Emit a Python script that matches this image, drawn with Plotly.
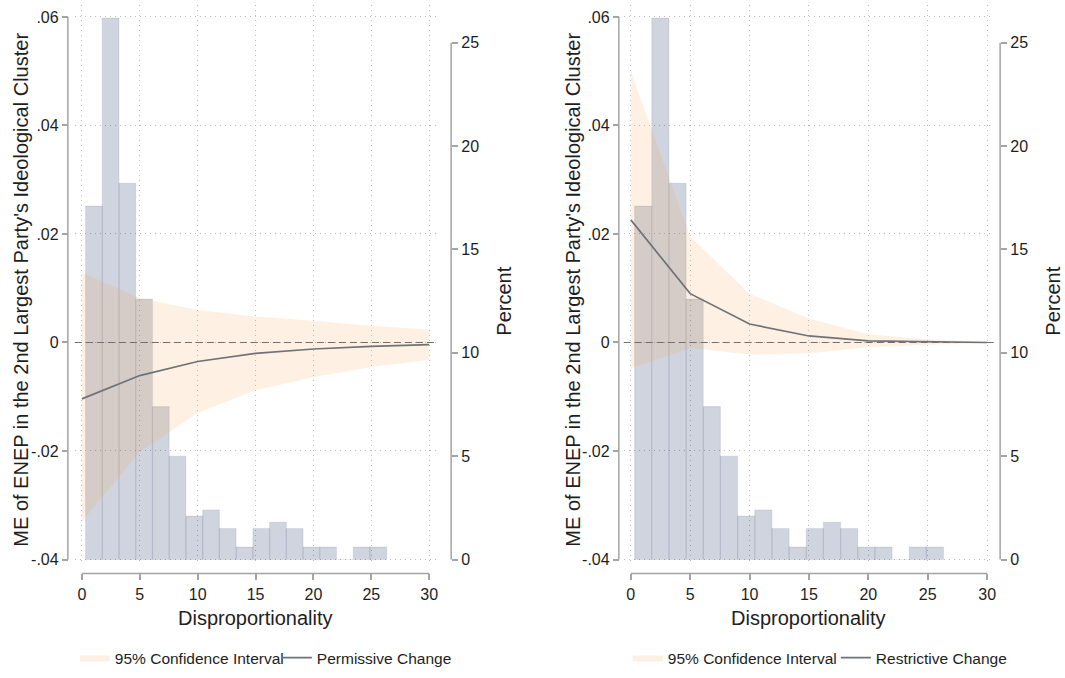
import numpy as np
import plotly.graph_objects as go

# ---- data -------------------------------------------------------------
# Evaluation points of disproportionality for the marginal effects
disp_points = [0, 5, 10, 15, 20, 25, 30]

# Permissive change: marginal effect and 95% CI bounds
perm_me = [-0.0104, -0.0061, -0.0035, -0.0020, -0.0012, -0.0007, -0.0004]
perm_hi = [0.0129, 0.0082, 0.0060, 0.0048, 0.0040, 0.0031, 0.0024]
perm_lo = [-0.0330, -0.0202, -0.0130, -0.0088, -0.0064, -0.0045, -0.0032]

# Restrictive change: marginal effect and 95% CI bounds
restr_me = [0.0226, 0.0090, 0.0034, 0.0012, 0.0003, 0.0001, 0.0000]
restr_hi = [0.0500, 0.0195, 0.0090, 0.0044, 0.0015, 0.0006, 0.0001]
restr_lo = [-0.0048, -0.0010, -0.0022, -0.0020, -0.0009, -0.0004, -0.0001]

# Histogram of disproportionality (percent of observations per bin)
hist_start = 0.32
hist_width = 1.445
hist_percent = [17.1, 26.2, 18.2, 12.6, 7.4, 5.0, 2.1, 2.4, 1.5, 0.6,
                1.5, 1.8, 1.5, 0.6, 0.6, 0.0, 0.6, 0.6]

# Tick labels
me_ticks = [-0.04, -0.02, 0, 0.02, 0.04, 0.06]
me_ticktext = ["-.04", "-.02", "0", ".02", ".04", ".06"]
pct_ticks = [0, 5, 10, 15, 20, 25]
x_ticks = [0, 5, 10, 15, 20, 25, 30]

y_title = "ME of ENEP in the 2nd Largest Party's Ideological Cluster"
panels = [
    dict(me=perm_me, hi=perm_hi, lo=perm_lo, label="Permissive Change"),
    dict(me=restr_me, hi=restr_hi, lo=restr_lo, label="Restrictive Change"),
]

# ---- page geometry (pixels) ------------------------------------------
W, H = 1065, 678


def fx(px):
    return px / W


def fy(py):
    return 1 - py / H


# per panel: pixel of x=0, pixel of x=30, left axis x, right axis x,
# left-title x, right-title x, legend x, width reserved for first legend text
geo = [
    dict(x0=82, x30=430, laxis=68, raxis=452, ltitle=21, rtitle=505,
         leg=75, legw=157),
    dict(x0=632, x30=989, laxis=620, raxis=1002, ltitle=574, rtitle=1055,
         leg=629, legw=163),
]
Y_TOP, Y_BOT = 5, 568          # plot region rows
ME_ZERO, ME_PX = 344, 5450     # row of ME=0, pixels per ME unit
PCT_ZERO, PCT_PX = 562, 20.76  # row of 0 percent, pixels per percent
XAXIS_ROW = 576
PAD = 0.6

FONT = "Liberation Sans, Arial, Helvetica, sans-serif"
AX_COL = "#a4a4a4"
TXT_COL = "#1e1e1e"
GRID_COL = "#bcbcbc"
GRID_DASH = "1px,4px"
CI_FILL = "rgba(247,160,70,0.15)"
BAR_FILL = "rgba(20,40,95,0.2)"
BAR_EDGE = "rgba(20,40,95,0.08)"
LINE_COL = "#6f7277"
TICK_SIZE = 16
TITLE_SIZE = 20

edges = hist_start + hist_width * np.arange(len(hist_percent))
centers = edges + hist_width / 2

fig = go.Figure()
layout = dict(
    width=W, height=H, margin=dict(l=0, r=0, t=0, b=0),
    paper_bgcolor="white", plot_bgcolor="white",
    font=dict(family=FONT, size=15, color=TXT_COL),
    shapes=[], annotations=[],
)

me_range = [(ME_ZERO - Y_BOT) / ME_PX, (ME_ZERO - Y_TOP) / ME_PX]
pct_range = [(PCT_ZERO - Y_BOT) / PCT_PX, (PCT_ZERO - Y_TOP) / PCT_PX]
ydom = [fy(Y_BOT), fy(Y_TOP)]

for i, (p, g) in enumerate(zip(panels, geo)):
    xn = "x" if i == 0 else "x2"
    yp = "y" if i == 0 else "y3"      # percent axis (histogram)
    ym = "y2" if i == 0 else "y4"     # marginal-effect axis
    xkey = "xaxis" if i == 0 else "xaxis2"
    ypkey = "yaxis" if i == 0 else "yaxis3"
    ymkey = "yaxis2" if i == 0 else "yaxis4"
    leg = "legend" if i == 0 else "legend2"

    upx = (g["x30"] - g["x0"]) / 30.0
    xdom = [fx(g["x0"] - PAD * upx), fx(g["x30"] + PAD * upx)]

    # histogram bars
    fig.add_trace(go.Bar(
        x=centers, y=hist_percent, width=hist_width,
        marker=dict(color=BAR_FILL, line=dict(color=BAR_EDGE, width=1.2)),
        xaxis=xn, yaxis=yp, showlegend=False, hoverinfo="skip",
    ))
    # confidence band
    fig.add_trace(go.Scatter(
        x=list(disp_points) + list(disp_points)[::-1],
        y=list(p["hi"]) + list(p["lo"])[::-1],
        fill="toself", fillcolor=CI_FILL, line=dict(width=0),
        mode="lines", name="95% Confidence Interval",
        xaxis=xn, yaxis=ym, legend=leg, legendwidth=g["legw"],
        hoverinfo="skip",
    ))
    # marginal effect line
    fig.add_trace(go.Scatter(
        x=disp_points, y=p["me"], mode="lines",
        line=dict(color=LINE_COL, width=1.7),
        name=p["label"], xaxis=xn, yaxis=ym, legend=leg,
    ))

    layout[xkey] = dict(
        domain=xdom, range=[-PAD, 30 + PAD], anchor="free",
        position=fy(XAXIS_ROW), tickvals=x_ticks, ticks="outside",
        ticklen=6, tickwidth=1.5, tickcolor=AX_COL, showline=False,
        showgrid=True, gridcolor=GRID_COL, griddash=GRID_DASH, gridwidth=1,
        zeroline=False, tickfont=dict(size=TICK_SIZE, color=TXT_COL),
    )
    layout[ypkey] = dict(
        domain=ydom, range=pct_range, anchor="free", side="right",
        position=fx(g["raxis"]), tickvals=pct_ticks, ticks="outside",
        ticklen=6, tickwidth=1.5, tickcolor=AX_COL, showline=False,
        showgrid=False, zeroline=False,
        tickfont=dict(size=TICK_SIZE, color=TXT_COL),
    )
    layout[ymkey] = dict(
        overlaying=yp, range=me_range, anchor="free", side="left",
        position=fx(g["laxis"]), tickvals=me_ticks, ticktext=me_ticktext,
        ticks="outside", ticklen=6, tickwidth=1.5, tickcolor=AX_COL,
        showline=False, showgrid=True, gridcolor=GRID_COL,
        griddash=GRID_DASH, gridwidth=1, zeroline=False,
        tickfont=dict(size=TICK_SIZE, color=TXT_COL),
    )

    # axis lines limited to the labelled span
    layout["shapes"] += [
        dict(type="line", xref="paper", yref=ym, x0=fx(g["laxis"]),
             x1=fx(g["laxis"]), y0=me_ticks[0], y1=me_ticks[-1],
             line=dict(color=AX_COL, width=1.5)),
        dict(type="line", xref="paper", yref=yp, x0=fx(g["raxis"]),
             x1=fx(g["raxis"]), y0=pct_ticks[0], y1=pct_ticks[-1],
             line=dict(color=AX_COL, width=1.5)),
        dict(type="line", xref=xn, yref="paper", x0=x_ticks[0],
             x1=x_ticks[-1], y0=fy(XAXIS_ROW), y1=fy(XAXIS_ROW),
             line=dict(color=AX_COL, width=1.5)),
        # reference line at zero effect
        dict(type="line", xref=xn + " domain", yref=ym, x0=0, x1=1,
             y0=0, y1=0, layer="above",
             line=dict(color="#707070", width=1.2, dash="7px,4px")),
    ]

    layout["annotations"] += [
        dict(text="Disproportionality", xref="paper", yref="paper",
             x=fx((g["x0"] + g["x30"]) / 2), y=fy(621), xanchor="center",
             yanchor="middle", showarrow=False,
             font=dict(size=TITLE_SIZE, color=TXT_COL)),
        dict(text=y_title, xref="paper", yref="paper", x=fx(g["ltitle"]),
             y=fy(291), xanchor="center", yanchor="middle", textangle=-90,
             showarrow=False, font=dict(size=TITLE_SIZE, color=TXT_COL)),
        dict(text="Percent", xref="paper", yref="paper", x=fx(g["rtitle"]),
             y=fy(303), xanchor="center", yanchor="middle", textangle=-90,
             showarrow=False, font=dict(size=TITLE_SIZE, color=TXT_COL)),
    ]

    # legend sits on the bottom edge so it never pushes the margins
    layout[leg] = dict(
        orientation="h", x=fx(g["leg"]), xanchor="left", y=0,
        yanchor="bottom", bgcolor="rgba(0,0,0,0)",
        font=dict(size=15.5, color=TXT_COL), itemwidth=30,
        traceorder="normal",
    )

fig.update_layout(**layout)
fig.write_html("out.html")
